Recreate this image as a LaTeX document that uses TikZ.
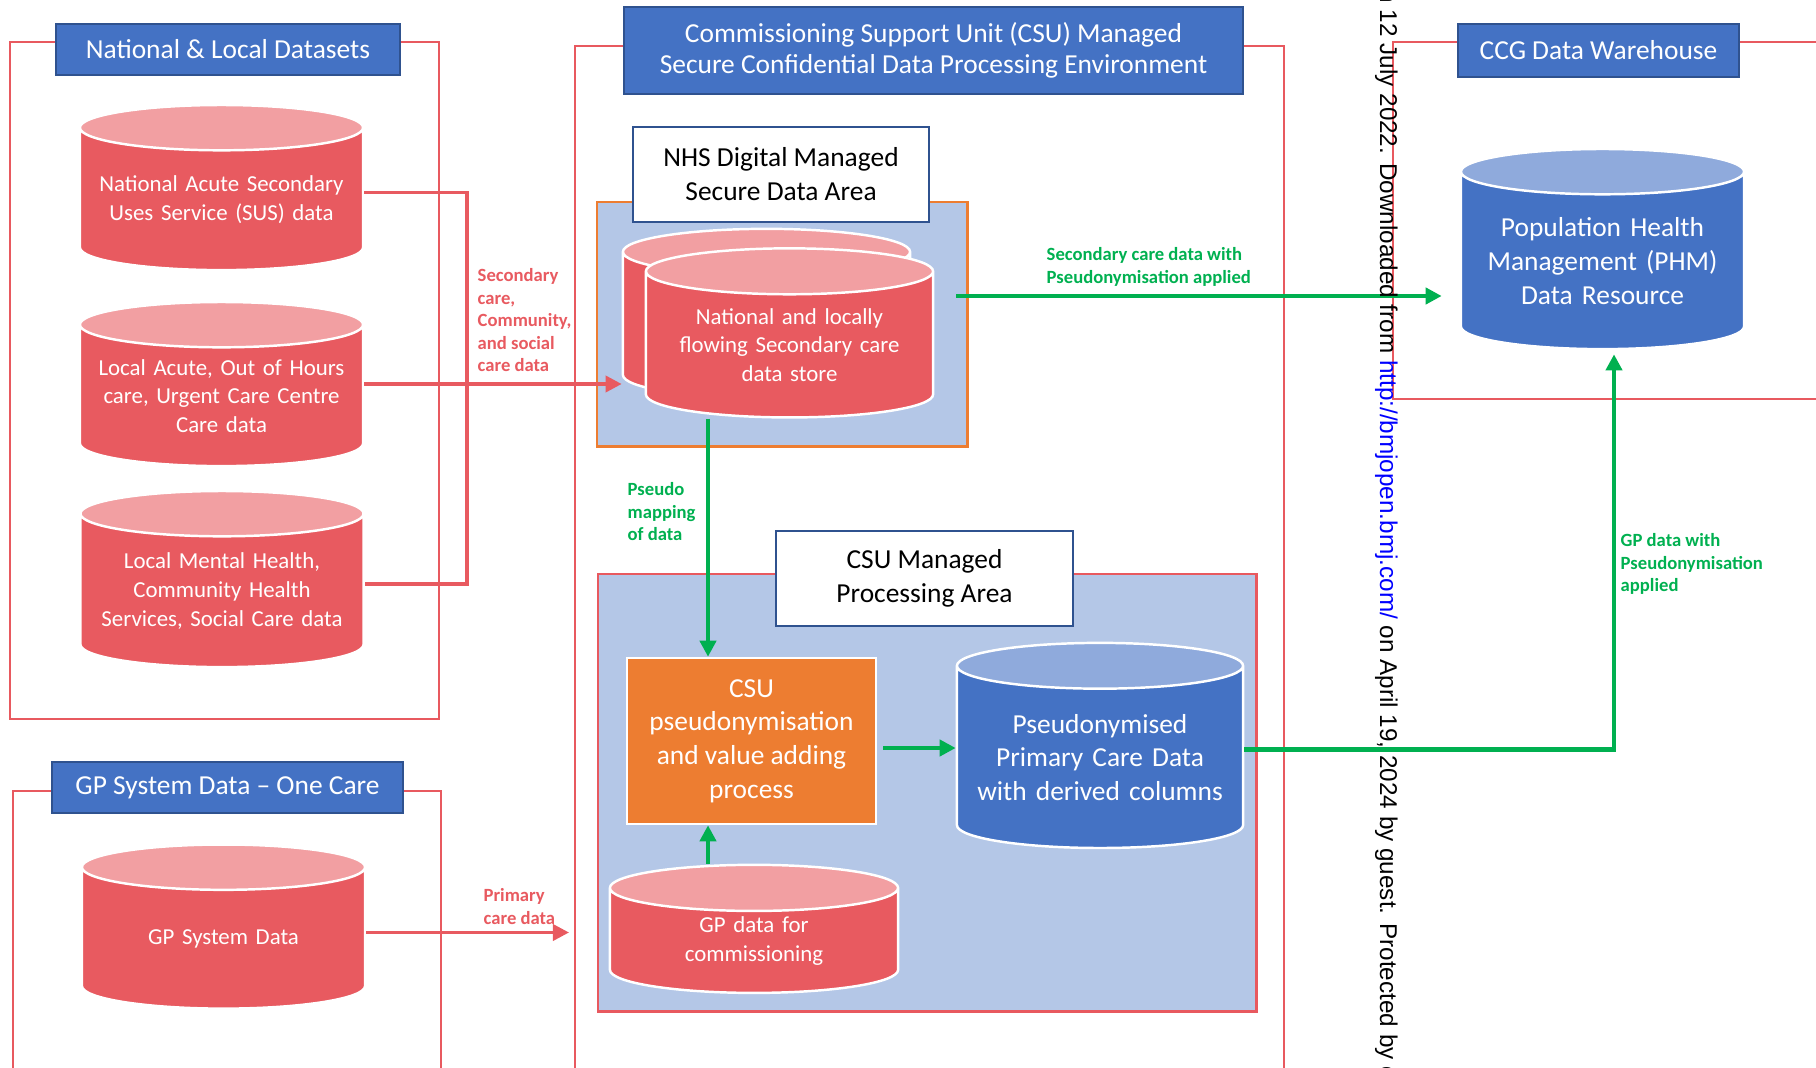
\documentclass[tikz,border=0pt]{standalone}
\usepackage{fontspec}
\setmainfont{Carlito}
\newfontfamily\wmfont{Liberation Sans}
\usepackage{xcolor}
\usepackage{tikz}
\usetikzlibrary{shapes,arrows,calc,arrows.meta}

\definecolor{cylred}{HTML}{E85A60}
\definecolor{cylredtop}{HTML}{F29FA2}
\definecolor{hdblue}{HTML}{4472C4}
\definecolor{hdline}{HTML}{2F528F}
\definecolor{bluetop}{HTML}{8FAADC}
\definecolor{areablue}{HTML}{B4C7E7}
\definecolor{procorange}{HTML}{ED7D31}
\definecolor{flowgreen}{HTML}{00B050}
\definecolor{zonered}{HTML}{E8595F}

\tikzset{
  zone/.style={draw=zonered, line width=0.45pt, inner sep=0pt, anchor=north west},
  area/.style={fill=areablue, line width=0.7pt, inner sep=0pt, anchor=north west},
  hdr/.style={fill=hdblue, draw=hdline, line width=0.6pt, text=white, align=center, inner sep=0pt, font=\fontsize{7.8}{8.8}\selectfont},
  areahdr/.style={fill=white, draw=hdline, line width=0.6pt, text=black, align=center, inner sep=0pt, font=\fontsize{7.8}{9.7}\selectfont},
  db/.style={cylinder, shape border rotate=90, aspect=0.16, draw=white, line width=0.7pt, cylinder uses custom fill, inner sep=0pt, text width=2.83cm, text=white, align=center, font=\fontsize{6.5}{8.2}\selectfont},
  dbred/.style={db, cylinder body fill=cylred, cylinder end fill=cylredtop},
  dbblue/.style={db, cylinder body fill=hdblue, cylinder end fill=bluetop, font=\fontsize{7.8}{9.6}\selectfont},
  procbox/.style={fill=procorange, draw=white, line width=0.7pt, text=white, align=center, inner sep=0pt, font=\fontsize{7.8}{9.6}\selectfont},
  redlbl/.style={text=cylred, font=\bfseries\fontsize{5.3}{6.4}\selectfont, align=left, inner sep=0pt, anchor=north west},
  grnlbl/.style={redlbl, text=flowgreen},
  redflow/.style={draw=cylred, line width=1pt},
  redarrow/.style={redflow, -{Triangle[length=0.16cm, width=0.16cm]}},
  greenarrow/.style={draw=flowgreen, line width=1.15pt, -{Triangle[length=0.16cm, width=0.16cm]}}
}

\begin{document}
\begin{tikzpicture}[x=0.01cm, y=-0.01cm]
  \useasboundingbox (0,0) rectangle (1816,1067);
  \clip (0,0) rectangle (1816,1067);

  % zones
  \node[zone, minimum width=4.29cm, minimum height=6.77cm] (natzone) at (9,41) {};
  \node[zone, minimum width=4.28cm, minimum height=3.2cm] (gpzone) at (12,790) {};
  \node[zone, minimum width=7.09cm, minimum height=10.5cm] (csuzone) at (574,45) {};
  \node[zone, minimum width=5cm, minimum height=3.57cm] (ccgzone) at (1392,41) {};

  \node[hdr, minimum width=3.44cm, minimum height=0.51cm] (nattitle) at (228,49.5) {National \& Local Datasets};
  \node[hdr, minimum width=3.51cm, minimum height=0.51cm] (gptitle) at (227.5,787.5) {GP System Data -- One Care};
  \node[hdr, minimum width=6.19cm, minimum height=0.87cm] (csutitle) at (933.5,50.5) {Commissioning Support Unit (CSU) Managed\\Secure Confidential Data Processing Environment};
  \node[hdr, minimum width=2.81cm, minimum height=0.53cm] (ccgtitle) at (1598.5,50.5) {CCG Data Warehouse};

  % inner areas
  \node[area, draw=procorange, minimum width=3.7cm, minimum height=2.44cm] (nhsarea) at (596,201) {};
  \node[area, draw=zonered, minimum width=6.58cm, minimum height=4.37cm] (procarea) at (597,573) {};
  \node[areahdr, minimum width=2.96cm, minimum height=0.95cm] (nhstitle) at (781,174.5) {NHS Digital Managed\\Secure Data Area};
  \node[areahdr, minimum width=2.97cm, minimum height=0.95cm] (proctitle) at (924.5,578.5) {CSU Managed\\Processing Area};

  % data stores
  \node[dbred, minimum height=1.65cm] (sus) at (221.5,199.5) {National Acute Secondary\\Uses Service (SUS) data};
  \node[dbred, minimum height=1.64cm] (local) at (221.5,396) {Local Acute, Out of Hours\\care, Urgent Care Centre\\Care data};
  \node[dbred, minimum height=1.76cm] (mh) at (222,591) {Local Mental Health,\\Community Health\\Services, Social Care data};
  \node[dbred, minimum height=1.64cm] (gpsys) at (223.5,938.5) {GP System Data};
  \node[dbred, text width=2.87cm, minimum height=1.69cm] (back) at (766.5,325.5) {};
  \node[dbred, text width=2.87cm, minimum height=1.69cm] (store) at (789.5,345) {National and locally\\flowing Secondary care\\data store};
  \node[dbred, text width=2.88cm, minimum height=1.28cm] (gpc) at (754,941) {GP data for\\commissioning};
  \node[dbblue, text width=2.86cm, minimum height=2.05cm] (pcd) at (1100,757.5) {Pseudonymised\\Primary Care Data\\with derived columns};
  \node[dbblue, minimum height=2cm] (phm) at (1602.5,261) {Population Health\\Management (PHM)\\Data Resource};
  \node[procbox, minimum width=2.49cm, minimum height=1.66cm] (proc) at (751.5,741) {CSU\\pseudonymisation\\and value adding\\process};

  % connectors
  \coordinate (busx) at (467,0);
  \coordinate (mapx) at (708,0);
  \coordinate (phmx) at (1614,0);
  \coordinate (secrow) at (0,296);
  \coordinate (susout) at ([yshift=0.07cm]sus.east);
  \coordinate (localout) at ([yshift=0.12cm]local.east);
  \coordinate (mhout) at ([yshift=0.07cm]mh.east);
  \coordinate (gpsysout) at ([yshift=0.06cm]gpsys.east);
  \coordinate (procout) at ([yshift=-0.07cm]proc.east);
  \coordinate (pcdout) at ([yshift=0.08cm]pcd.east);
  \draw[redflow] (susout) -| (busx |- mhout) -- (mhout);
  \draw[redarrow] (localout) -- (localout -| back.west);
  \draw[redarrow, shorten >=0.05cm] (gpsysout) -- (gpsysout -| csuzone.west);
  \draw[greenarrow] (store.south -| mapx) -- (proc.north -| mapx);
  \draw[greenarrow] (gpc.north -| mapx) -- (proc.south -| mapx);
  \draw[greenarrow, shorten <=0.06cm] (procout) -- (procout -| pcd.west);
  \draw[greenarrow, shorten >=0.04cm] (pcdout) -| (phmx |- phm.south);
  \draw[greenarrow, shorten <=0.22cm, shorten >=0.18cm] (store.east |- secrow) -- (phm.west |- secrow);

  % flow labels
  \node[redlbl] (lblsec) at (477,268) {Secondary\\care,\\Community,\\and social\\care data};
  \node[redlbl] (lblprim) at (483,888) {Primary\\care data};
  \node[grnlbl] (lblstore) at (1046,247) {Secondary care data with\\Pseudonymisation applied};
  \node[grnlbl] (lblmap) at (627,482) {Pseudo\\mapping\\of data};
  \node[grnlbl] (lblgp) at (1620,533) {GP data with\\Pseudonymisation\\applied};

  % side stamp
  \node[rotate=-90, anchor=base west, inner sep=0pt, font=\wmfont\fontsize{6.9}{8}\selectfont] (stamp) at (1380,-11) {n 12 July 2022. Downloaded from \textcolor{blue}{http://bmjopen.bmj.com/} on April 19, 2024 by guest. Protected by c};
\end{tikzpicture}
\end{document}
